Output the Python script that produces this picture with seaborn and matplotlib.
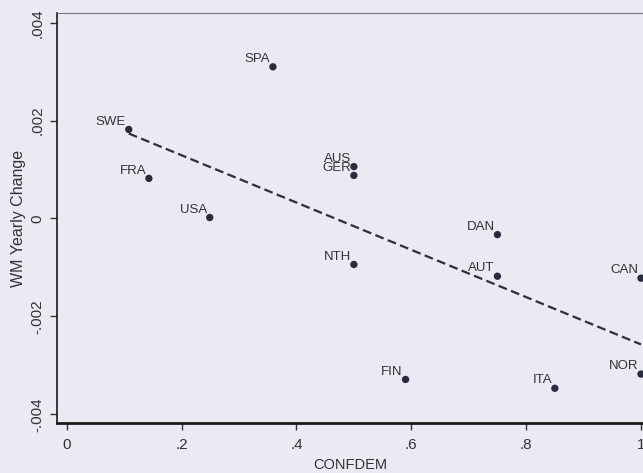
import matplotlib
matplotlib.use("Agg")
import matplotlib.pyplot as plt
import pandas as pd
import seaborn as sns

# values
countries = ["SWE", "FRA", "USA", "SPA", "AUS", "GER", "NTH",
             "FIN", "DAN", "AUT", "ITA", "CAN", "NOR"]
confdem = [0.108, 0.143, 0.249, 0.359, 0.50, 0.50, 0.50,
           0.59, 0.75, 0.75, 0.85, 1.0, 1.0]
wm_change = [0.00182, 0.00082, 0.00002, 0.00310, 0.00106, 0.00088, -0.00094,
             -0.00329, -0.00033, -0.00118, -0.00347, -0.00122, -0.00318]
x_ticks = [0, 0.2, 0.4, 0.6, 0.8, 1.0]
x_ticklabels = ["0", ".2", ".4", ".6", ".8", "1"]
y_ticks = [-0.004, -0.002, 0, 0.002, 0.004]
y_ticklabels = ["-.004", "-.002", "0", ".002", ".004"]

df = pd.DataFrame({"country": countries, "CONFDEM": confdem, "WM": wm_change})

BG = "#e9eaf3"
INK = "#2b2b40"
TXT = "#333333"

sns.set_theme(style="ticks")
plt.rcParams["font.family"] = ["Liberation Sans", "DejaVu Sans"]

fig = plt.figure(figsize=(6.43, 4.73), dpi=100, facecolor=BG)
ax = fig.add_axes([57 / 643, 50 / 473, 1 - 57 / 643, 410 / 473])
ax.set_facecolor(BG)

# Stata-style lfit: OLS line over the data range
sns.regplot(data=df, x="CONFDEM", y="WM", scatter=False, ci=None, ax=ax,
            line_kws={"color": "#2e2e3a", "lw": 1.6, "dashes": (4, 2)})
sns.scatterplot(data=df, x="CONFDEM", y="WM", ax=ax, s=28, color=INK,
                edgecolor="none", zorder=3)

for _, r in df.iterrows():
    ax.annotate(r["country"], (r["CONFDEM"], r["WM"]), xytext=(-2, 3.5),
                textcoords="offset points", ha="right", va="baseline",
                fontsize=9.5, color=TXT)

ax.set_xlim(-0.017, 1.0035)
ax.set_ylim(-0.00418, 0.0042)
ax.set_xticks(x_ticks)
ax.set_xticklabels(x_ticklabels)
ax.set_yticks(y_ticks)
ax.set_yticklabels(y_ticklabels, rotation=90, va="center")
ax.tick_params(axis="both", labelsize=11, colors=TXT, length=5, width=1)
ax.tick_params(axis="x", pad=6)
ax.tick_params(axis="y", pad=4)

ax.set_xlabel("CONFDEM", fontsize=10.5, color=TXT, labelpad=4)
ax.set_ylabel("WM Yearly Change", fontsize=11.5, color=TXT, labelpad=3)

for side in ("left", "bottom"):
    ax.spines[side].set_color("#1a1a1a")
ax.spines["left"].set_linewidth(1.2)
ax.spines["bottom"].set_linewidth(2)
ax.spines["top"].set_visible(True)
ax.spines["top"].set_color("#777777")
ax.spines["top"].set_linewidth(0.8)
ax.spines["right"].set_visible(False)

fig.savefig("out.png", dpi=100, facecolor=BG)
